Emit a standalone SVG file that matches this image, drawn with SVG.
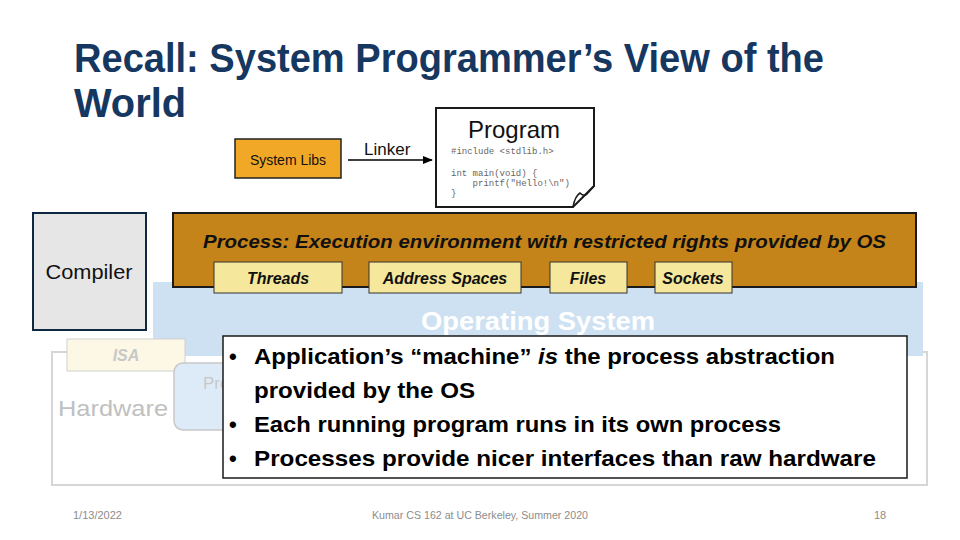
<svg xmlns="http://www.w3.org/2000/svg" width="960" height="540" viewBox="0 0 960 540">
<defs>
<style>
.t{font-family:"Liberation Sans",Arial,sans-serif}
.title{font-size:40px;font-weight:bold;fill:#16375F}
.tab{fill:#F5E79B;stroke:#333;stroke-width:1}
.tabt{font-size:16px;font-weight:bold;font-style:italic;fill:#111;text-anchor:middle}
.code{font-family:"Liberation Mono","Courier New",monospace;font-size:9px;fill:#666}
.bul{font-size:22px;font-weight:bold;fill:#000}
.foot{font-size:11px;fill:#8C8C8C}
</style>
<marker id="ah" markerWidth="10" markerHeight="8" refX="9" refY="4" orient="auto" markerUnits="userSpaceOnUse">
<path d="M0,0 L10,4 L0,8 Z" fill="#000"/>
</marker>
</defs>
<rect width="960" height="540" fill="#fff"/>

<g id="title">
<text class="t title" x="74" y="72" textLength="750" lengthAdjust="spacingAndGlyphs">Recall: System Programmer’s View of the</text>
<text class="t title" x="74" y="117" textLength="112" lengthAdjust="spacingAndGlyphs">World</text>
</g>

<g id="hardware">
<rect x="52" y="352" width="875" height="133" fill="#fff" stroke="#D6D6D6" stroke-width="2"/>
<text class="t" x="58" y="416" font-size="22" fill="#C0C0C0" textLength="110" lengthAdjust="spacingAndGlyphs">Hardware</text>
</g>

<g id="os">
<rect x="153" y="282" width="770" height="74" fill="#CEE1F2"/>
<text class="t" x="538" y="330" font-size="25" font-weight="bold" fill="#fff" text-anchor="middle" textLength="234" lengthAdjust="spacingAndGlyphs">Operating System</text>
</g>

<g id="isa">
<rect x="67" y="339" width="118" height="32" fill="#FDF8E6" stroke="#D0D0D0" stroke-width="1"/>
<text class="t" x="126" y="361" font-size="16" font-weight="bold" font-style="italic" fill="#C8C8C8" text-anchor="middle">ISA</text>
</g>

<g id="proc-abstraction">
<rect x="174" y="363" width="120" height="67" rx="9" fill="#DDEBF8" stroke="#C8C8C8" stroke-width="1.5"/>
<text class="t" x="203" y="389" font-size="17" fill="#C8C8C8">Pro</text>
</g>

<g id="compiler">
<rect x="33" y="213" width="113" height="117" fill="#E7E6E6" stroke="#0E2841" stroke-width="2"/>
<text class="t" x="89" y="279" font-size="20" fill="#111" text-anchor="middle" textLength="87" lengthAdjust="spacingAndGlyphs">Compiler</text>
</g>

<g id="process">
<rect x="173" y="213" width="743" height="74" fill="#C5841A" stroke="#1A1A1A" stroke-width="2"/>
<text class="t" x="203" y="248" font-size="19" font-weight="bold" font-style="italic" fill="#111" textLength="683" lengthAdjust="spacingAndGlyphs">Process: Execution environment with restricted rights provided by OS</text>
</g>

<g id="threads">
<rect class="tab" x="214" y="262" width="128" height="31"/>
<text class="t tabt" x="278" y="284">Threads</text>
</g>
<g id="address-spaces">
<rect class="tab" x="369" y="262" width="152" height="31"/>
<text class="t tabt" x="445" y="284">Address Spaces</text>
</g>
<g id="files">
<rect class="tab" x="550" y="262" width="77" height="31"/>
<text class="t tabt" x="588" y="284">Files</text>
</g>
<g id="sockets">
<rect class="tab" x="655" y="262" width="77" height="31"/>
<text class="t tabt" x="693" y="284">Sockets</text>
</g>

<g id="system-libs">
<rect x="235" y="139" width="106" height="39" fill="#F2A827" stroke="#222" stroke-width="1.5"/>
<text class="t" x="288" y="165" font-size="14" fill="#111" text-anchor="middle">System Libs</text>
</g>

<g id="program">
<path d="M436,108 H594 V186 L573,207 H436 Z" fill="#fff" stroke="#1A1A1A" stroke-width="2"/>
<path d="M573,207 Q575,196 580,193 Q584,197 587,194 L594,186" fill="none" stroke="#1A1A1A" stroke-width="1.5"/>
<text class="t" x="514" y="138" font-size="24" fill="#111" text-anchor="middle">Program</text>
<text class="code" x="451" y="154">#include &lt;stdlib.h&gt;</text>
<text class="code" x="451" y="176">int main(void) {</text>
<text class="code" x="451" y="186" xml:space="preserve">    printf("Hello!\n")</text>
<text class="code" x="451" y="196">}</text>
</g>

<g id="connectors">
<line x1="348" y1="160" x2="432" y2="160" stroke="#000" stroke-width="1.5" marker-end="url(#ah)"/>
<text class="t" x="364" y="155" font-size="17" fill="#111">Linker</text>
</g>

<g id="bullets">
<rect x="223" y="336" width="684" height="142" fill="#fff" stroke="#1A1A1A" stroke-width="1.5"/>
<text class="t bul" x="229" y="364">•</text>
<text class="t bul" x="254" y="364" textLength="581" lengthAdjust="spacingAndGlyphs">Application’s “machine” <tspan font-style="italic">is</tspan> the process abstraction</text>
<text class="t bul" x="254" y="398" textLength="221" lengthAdjust="spacingAndGlyphs">provided by the OS</text>
<text class="t bul" x="229" y="432">•</text>
<text class="t bul" x="254" y="432" textLength="527" lengthAdjust="spacingAndGlyphs">Each running program runs in its own process</text>
<text class="t bul" x="229" y="466">•</text>
<text class="t bul" x="254" y="466" textLength="622" lengthAdjust="spacingAndGlyphs">Processes provide nicer interfaces than raw hardware</text>
</g>

<g id="footer">
<text class="t foot" x="73" y="519">1/13/2022</text>
<text class="t foot" x="480" y="519" text-anchor="middle" textLength="216" lengthAdjust="spacingAndGlyphs">Kumar CS 162 at UC Berkeley, Summer 2020</text>
<text class="t foot" x="880" y="519" text-anchor="middle">18</text>
</g>
</svg>
